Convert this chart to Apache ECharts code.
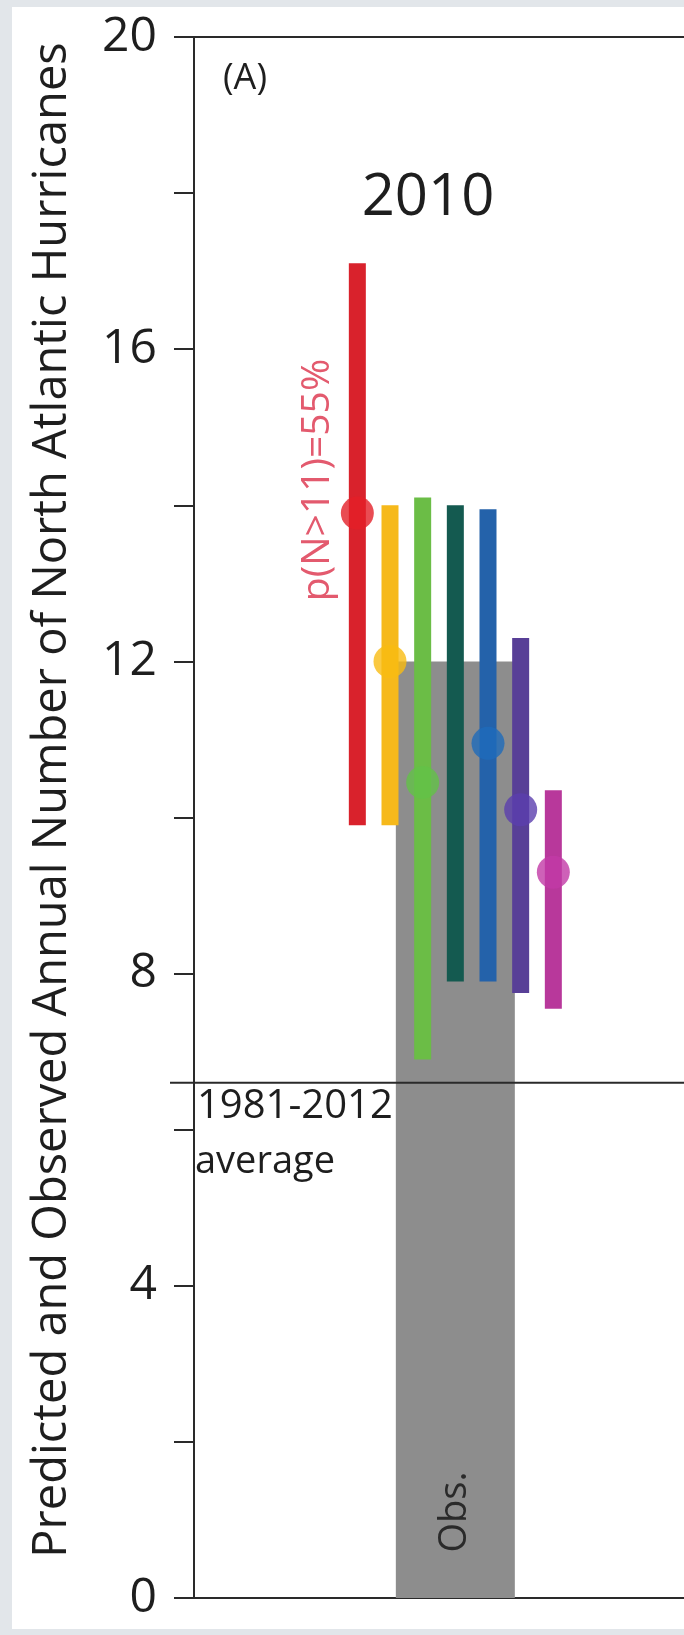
<!DOCTYPE html>
<html>
<head>
<meta charset="utf-8">
<script src="https://cdn.jsdelivr.net/npm/echarts@6/dist/echarts.min.js"></script>
<style>
  html, body { margin: 0; padding: 0; background: #e2e6ea; }
  body { width: 684px; height: 1635px; position: relative; overflow: hidden; }
  #chart { position: absolute; left: 12px; top: 7px; width: 672px; height: 1622px; background: #ffffff; }
</style>
</head>
<body>
<div id="chart"></div>
<script>
// Forecast ranges of the 2010 North Atlantic hurricane count, one slot per forecast group
const slots        = [0, 1, 2, 3, 4, 5, 6];
const rangeLow     = [9.9, 9.9, 6.9, 7.9, 7.9, 7.75, 7.55];
const rangeHigh    = [17.1, 14.0, 14.1, 14.0, 13.95, 12.3, 10.35];
const bestEstimate = [13.9, 12.0, 10.45, null, 10.95, 10.1, 9.3];
const groupColors  = ['#d9222c', '#f6b91b', '#6bbd46', '#145a50', '#2462aa', '#583f97', '#b8389b'];
const dotColors    = ['#e41f28', '#f9bb12', '#63c247', '#145a50', '#1e6cbb', '#5b3fae', '#c23aa6'];

// Observed count and the climatological reference
const observedSlot = 3;
const observedCount = 12;
const climatology = 6.6;

// Axis ticks
const yTickLabels = [0, 4, 8, 12, 16, 20];

const FONT = '"Open Sans", "Noto Sans", sans-serif';
const INK = '#2a2a2a';
const TEXT = '#1e1e1e';

const chart = echarts.init(document.getElementById('chart'));

const xMin = -5, xMax = 10;

chart.setOption({
  animation: false,
  grid: { left: 182, top: 30, right: 0, height: 1561 },
  xAxis: [
    {
      type: 'value', min: xMin, max: xMax, position: 'bottom',
      axisLine: { show: true, onZero: false, lineStyle: { color: INK, width: 2 } },
      axisTick: { show: false }, axisLabel: { show: false }, splitLine: { show: false }
    },
    {
      type: 'value', min: xMin, max: xMax, position: 'top',
      axisLine: { show: true, onZero: false, lineStyle: { color: INK, width: 2 } },
      axisTick: { show: false }, axisLabel: { show: false }, splitLine: { show: false }
    }
  ],
  yAxis: {
    type: 'value', min: 0, max: 20, interval: 2, position: 'left',
    axisLine: { show: true, onZero: false, lineStyle: { color: INK, width: 2 } },
    axisTick: { show: true, length: 20, lineStyle: { color: INK, width: 2 } },
    axisLabel: {
      margin: 37, fontSize: 48, color: TEXT, fontFamily: FONT,
      formatter: v => (yTickLabels.indexOf(v) >= 0 ? String(v) : '')
    },
    splitLine: { show: false }
  },
  graphic: [
    {
      type: 'text', x: 41, y: 793, rotation: Math.PI / 2,
      style: {
        text: 'Predicted and Observed Annual Number of North Atlantic Hurricanes',
        fontSize: 47, fontFamily: FONT, fill: TEXT,
        align: 'center', verticalAlign: 'middle'
      }
    },
    {
      type: 'text', x: 211, y: 72,
      style: { text: '(A)', fontSize: 36, fontFamily: FONT, fill: TEXT, align: 'left', verticalAlign: 'middle' }
    },
    {
      type: 'text', x: 416, y: 191,
      style: { text: '2010', fontSize: 58, fontFamily: FONT, fill: TEXT, align: 'center', verticalAlign: 'middle' }
    },
    {
      type: 'text', x: 306, y: 473, rotation: Math.PI / 2,
      style: { text: 'p(N>11)=55%', fontSize: 39, fontFamily: FONT, fill: '#e35a6e', align: 'center', verticalAlign: 'middle' }
    }
  ],
  series: [
    {
      // observed bar
      type: 'custom', z: 1,
      data: [[observedSlot, observedCount]],
      encode: { x: 0, y: 1 },
      renderItem: (params, api) => {
        const top = api.coord([api.value(0), api.value(1)]);
        const base = api.coord([api.value(0), 0]);
        const w = 119;
        return {
          type: 'group',
          children: [
            { type: 'rect', shape: { x: top[0] - w / 2, y: top[1], width: w, height: base[1] - top[1] },
              style: { fill: '#8d8d8d' } },
            { type: 'text', x: top[0], y: base[1] - 86, rotation: Math.PI / 2,
              style: { text: 'Obs.', fontSize: 38, fontFamily: FONT, fill: '#2a2a2a', align: 'center', verticalAlign: 'middle' } }
          ]
        };
      }
    },
    {
      // 1981-2012 average line
      type: 'custom', z: 3,
      data: [[xMin, climatology]],
      encode: { x: 0, y: 1 },
      renderItem: (params, api) => {
        const a = api.coord([xMin, api.value(1)]);
        const b = api.coord([xMax, api.value(1)]);
        return {
          type: 'group',
          children: [
            { type: 'line', shape: { x1: a[0] - 24, y1: a[1], x2: b[0], y2: b[1] },
              style: { stroke: INK, lineWidth: 2 } },
            { type: 'text', x: a[0] + 3, y: a[1] + 4,
              style: { text: '1981-2012', fontSize: 40, fontFamily: FONT, fill: TEXT, align: 'left', verticalAlign: 'top' } },
            { type: 'text', x: a[0] + 1, y: a[1] + 60,
              style: { text: 'average', fontSize: 38, fontFamily: FONT, fill: TEXT, align: 'left', verticalAlign: 'top' } }
          ]
        };
      }
    },
    {
      // forecast ranges
      type: 'custom', z: 4,
      data: slots.map((s, i) => [s, rangeLow[i], rangeHigh[i]]),
      encode: { x: 0, y: [1, 2] },
      renderItem: (params, api) => {
        const hi = api.coord([api.value(0), api.value(2)]);
        const lo = api.coord([api.value(0), api.value(1)]);
        const w = 17;
        return {
          type: 'rect',
          shape: { x: hi[0] - w / 2, y: hi[1], width: w, height: lo[1] - hi[1] },
          style: { fill: groupColors[params.dataIndex] }
        };
      }
    },
    {
      // best estimates
      type: 'scatter', z: 5,
      symbol: 'circle', symbolSize: 33,
      data: slots.map((s, i) => bestEstimate[i] == null ? null : {
        value: [s, bestEstimate[i]],
        itemStyle: { color: dotColors[i] }
      }).filter(d => d !== null)
    }
  ]
});
</script>
</body>
</html>
